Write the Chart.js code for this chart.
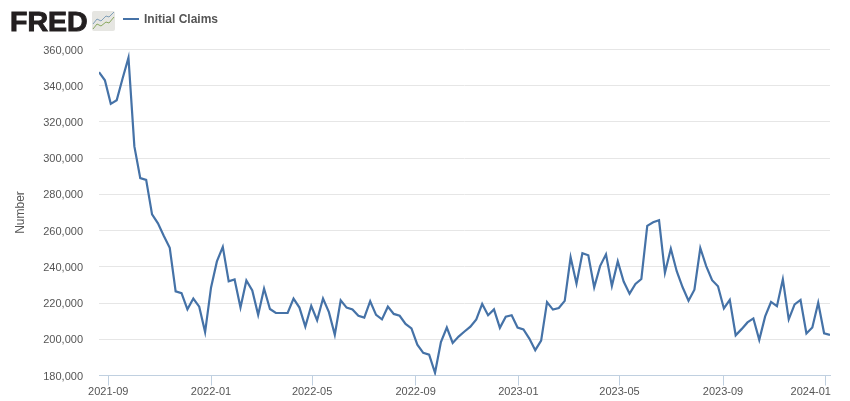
<!DOCTYPE html>
<html>
<head>
<meta charset="utf-8">
<title>Initial Claims</title>
<script src="https://cdn.jsdelivr.net/npm/chart.js@4"></script>
<style>
  body { margin: 0; background: #fff; font-family: "Liberation Sans", Arial, sans-serif; }
  #wrap { position: relative; width: 850px; height: 401px; overflow: hidden; }
  #logo { position: absolute; left: 10px; top: 5px; font-size: 28.5px; line-height: 32px; font-weight: bold; color: #231f20; -webkit-text-stroke: 1px #231f20; }
  #icon { position: absolute; left: 92px; top: 11px; }
  #legendLine { position: absolute; left: 123px; top: 18px; width: 16px; height: 2px; background: #4572a7; }
  #legendText { position: absolute; left: 144px; top: 12px; font-size: 12px; line-height: 14px; font-weight: bold; color: #555; }
</style>
</head>
<body>
<div id="wrap">
  <canvas id="chart" width="850" height="401"></canvas>
  <div id="logo">FRED</div>
  <svg id="icon" width="23" height="20" viewBox="0 0 23 20">
    <rect width="23" height="20" rx="2" fill="#e6e6e2"/>
    <polyline points="1,13 5,8 9,10 14,5 17,6 22,1" fill="none" stroke="#7f9fb8" stroke-width="1"/>
    <polyline points="1,18 5,13 9,15 14,11 17,12 22,6" fill="none" stroke="#8aa860" stroke-width="1"/>
  </svg>
  <div id="legendLine"></div>
  <div id="legendText">Initial Claims</div>
</div>
<script>
const weeks = [
  '2021-08-21','2021-08-28','2021-09-04','2021-09-11','2021-09-18','2021-09-25','2021-10-02','2021-10-09','2021-10-16','2021-10-23','2021-10-30',
  '2021-11-06','2021-11-13','2021-11-20','2021-11-27','2021-12-04','2021-12-11','2021-12-18','2021-12-25',
  '2022-01-01','2022-01-08','2022-01-15','2022-01-22','2022-01-29','2022-02-05','2022-02-12','2022-02-19','2022-02-26',
  '2022-03-05','2022-03-12','2022-03-19','2022-03-26','2022-04-02','2022-04-09','2022-04-16','2022-04-23','2022-04-30',
  '2022-05-07','2022-05-14','2022-05-21','2022-05-28','2022-06-04','2022-06-11','2022-06-18','2022-06-25',
  '2022-07-02','2022-07-09','2022-07-16','2022-07-23','2022-07-30','2022-08-06','2022-08-13','2022-08-20','2022-08-27',
  '2022-09-03','2022-09-10','2022-09-17','2022-09-24','2022-10-01','2022-10-08','2022-10-15','2022-10-22','2022-10-29',
  '2022-11-05','2022-11-12','2022-11-19','2022-11-26','2022-12-03','2022-12-10','2022-12-17','2022-12-24','2022-12-31',
  '2023-01-07','2023-01-14','2023-01-21','2023-01-28','2023-02-04','2023-02-11','2023-02-18','2023-02-25',
  '2023-03-04','2023-03-11','2023-03-18','2023-03-25','2023-04-01','2023-04-08','2023-04-15','2023-04-22','2023-04-29',
  '2023-05-06','2023-05-13','2023-05-20','2023-05-27','2023-06-03','2023-06-10','2023-06-17','2023-06-24',
  '2023-07-01','2023-07-08','2023-07-15','2023-07-22','2023-07-29','2023-08-05','2023-08-12','2023-08-19','2023-08-26',
  '2023-09-02','2023-09-09','2023-09-16','2023-09-23','2023-09-30','2023-10-07','2023-10-14','2023-10-21','2023-10-28',
  '2023-11-04','2023-11-11','2023-11-18','2023-11-25','2023-12-02','2023-12-09','2023-12-16','2023-12-23','2023-12-30',
  '2024-01-06'
];
const claims = [
  347500,343000,330000,332000,344000,355500,306500,289000,288000,269000,264000,
  257000,250500,226500,225500,216500,222500,218000,204000,
  228500,243000,251000,232000,233000,217500,232500,227000,213500,
  228000,216700,214500,214500,214500,222500,217500,207000,218500,
  210500,222500,215000,202500,221500,217500,216500,213000,
  212000,221000,213500,211000,218000,214000,213000,208500,206000,
  197000,192500,191500,181500,198500,206500,198000,201500,204300,
  207000,211000,219500,213300,216500,206300,212500,213300,206500,
  205400,200400,194000,199300,220500,216400,217300,221200,
  245300,230700,247500,246400,228700,240400,246900,229400,243000,
  231900,225200,230500,233300,262600,264600,265700,236700,
  250000,237600,228700,221300,227400,250400,240400,232600,229300,
  217000,221800,202200,205600,209300,211500,199700,212600,
  220600,218300,233100,211000,219300,221700,203200,206500,220200,
  203300,
  202400
];
const monthTicks = ['2021-09-01','2022-01-01','2022-05-01','2022-09-01','2023-01-01','2023-05-01','2023-09-01','2024-01-01'];

const toMs = d => Date.parse(d + 'T00:00:00Z');
const gridColor = '#e6e6e6';
const axisColor = '#c0d0e0';
const labelColor = '#555';
const fontFamily = '"Liberation Sans", Arial, sans-serif';

// the last date label stays inside the plot instead of centring on its tick
const pullLastLabel = {
  id: 'pullLastLabel',
  beforeDraw(chart) {
    const items = chart.scales.x.getLabelItems();
    const last = items[items.length - 1];
    last.options.translation[0] -= 15;
    // y labels sit just under their grid lines
    chart.scales.y.getLabelItems().forEach(it => { it.options.translation[1] += 1; });
  }
};

new Chart(document.getElementById('chart'), {
  type: 'line',
  data: {
    datasets: [{
      label: 'Initial Claims',
      data: weeks.map((w, i) => ({ x: toMs(w), y: claims[i] })),
      borderColor: '#4572a7',
      borderWidth: 2.2,
      pointRadius: 0,
      tension: 0,
      fill: false
    }]
  },
  plugins: [pullLastLabel],
  options: {
    responsive: false,
    animation: false,
    layout: { padding: { top: 49.5, right: 20, bottom: 0, left: 0 } },
    plugins: { legend: { display: false }, tooltip: { enabled: false } },
    scales: {
      x: {
        type: 'linear',
        min: toMs(weeks[0]),
        max: toMs(weeks[weeks.length - 1]),
        afterBuildTicks: axis => { axis.ticks = monthTicks.map(m => ({ value: toMs(m) })); },
        afterFit: axis => { axis.height = 25.5; },
        grid: { drawOnChartArea: false, drawTicks: true, tickLength: 10, color: axisColor },
        border: { color: axisColor },
        ticks: {
          autoSkip: false,
          maxRotation: 0,
          padding: 0,
          color: labelColor,
          font: { family: fontFamily, size: 11 },
          callback: v => new Date(v).toISOString().slice(0, 7)
        }
      },
      y: {
        min: 180000,
        max: 360000,
        afterFit: axis => { axis.width = 99; },
        grid: { color: gridColor, drawTicks: false },
        border: { display: false },
        title: { display: true, text: 'Number', color: '#555', font: { family: fontFamily, size: 12 }, padding: { top: 13, bottom: 0 } },
        ticks: {
          stepSize: 20000,
          padding: 16,
          color: labelColor,
          font: { family: fontFamily, size: 11 },
          callback: v => v.toLocaleString('en-US')
        }
      }
    }
  }
});
</script>
</body>
</html>
